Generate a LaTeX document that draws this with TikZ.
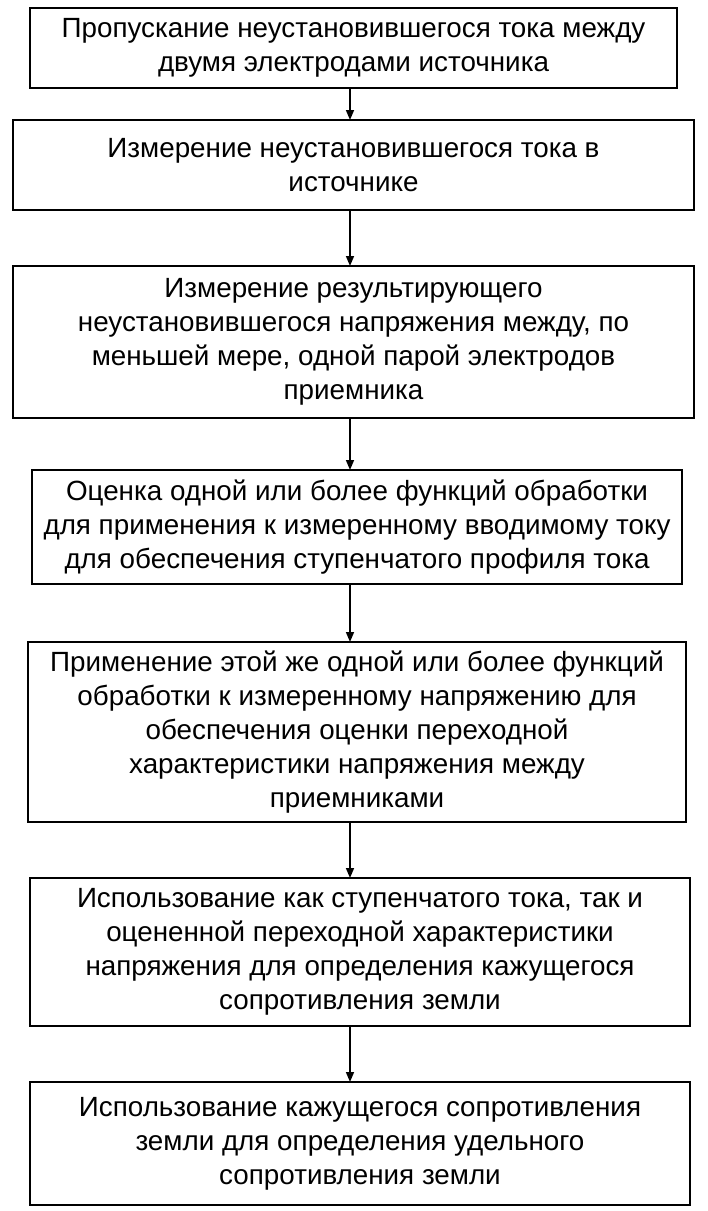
\documentclass[tikz,border=0pt]{standalone}
\usepackage{fontspec}
\setmainfont{Liberation Sans}
\usetikzlibrary{arrows.meta}
\begin{document}
\begin{tikzpicture}[x=1pt,y=-1pt,
  arr/.style={line width=1.6pt,-{Triangle[length=10pt,width=8pt]}}]
\useasboundingbox (0,0) rectangle (708,1211);
\def\bx#1#2#3#4#5#6{\draw[line width=1.6pt] (#2,#3) rectangle (#4,#5); \node[align=center,inner sep=0pt,font=\fontsize{27.8}{34}\selectfont] (#1) at ({(#2+#4)/2},{(#3+#5)/2}) {#6};
 \coordinate (#1t) at (350,#3); \coordinate (#1b) at (350,#5);}
\bx{a}{30}{8}{677}{88}{Пропускание неустановившегося тока между\\двумя электродами источника}
\bx{b}{13}{120}{694}{210}{Измерение неустановившегося тока в\\источнике}
\bx{c}{13}{266}{694}{418}{Измерение результирующего\\неустановившегося напряжения между, по\\меньшей мере, одной парой электродов\\приемника}
\bx{d}{32}{470}{682}{584}{Оценка одной или более функций обработки\\для применения к измеренному вводимому току\\для обеспечения ступенчатого профиля тока}
\bx{e}{28}{642}{686}{822}{Применение этой же одной или более функций\\обработки к измеренному напряжению для\\обеспечения оценки переходной\\характеристики напряжения между\\приемниками}
\bx{f}{30}{878}{690}{1026}{Использование как ступенчатого тока, так и\\оцененной переходной характеристики\\напряжения для определения кажущегося\\сопротивления земли}
\bx{g}{30}{1082}{690}{1205}{Использование кажущегося сопротивления\\земли для определения удельного\\сопротивления земли}
\draw[arr] (ab) -- (bt);
\draw[arr] (bb) -- (ct);
\draw[arr] (cb) -- (dt);
\draw[arr] (db) -- (et);
\draw[arr] (eb) -- (ft);
\draw[arr] (fb) -- (gt);
\end{tikzpicture}
\end{document}
